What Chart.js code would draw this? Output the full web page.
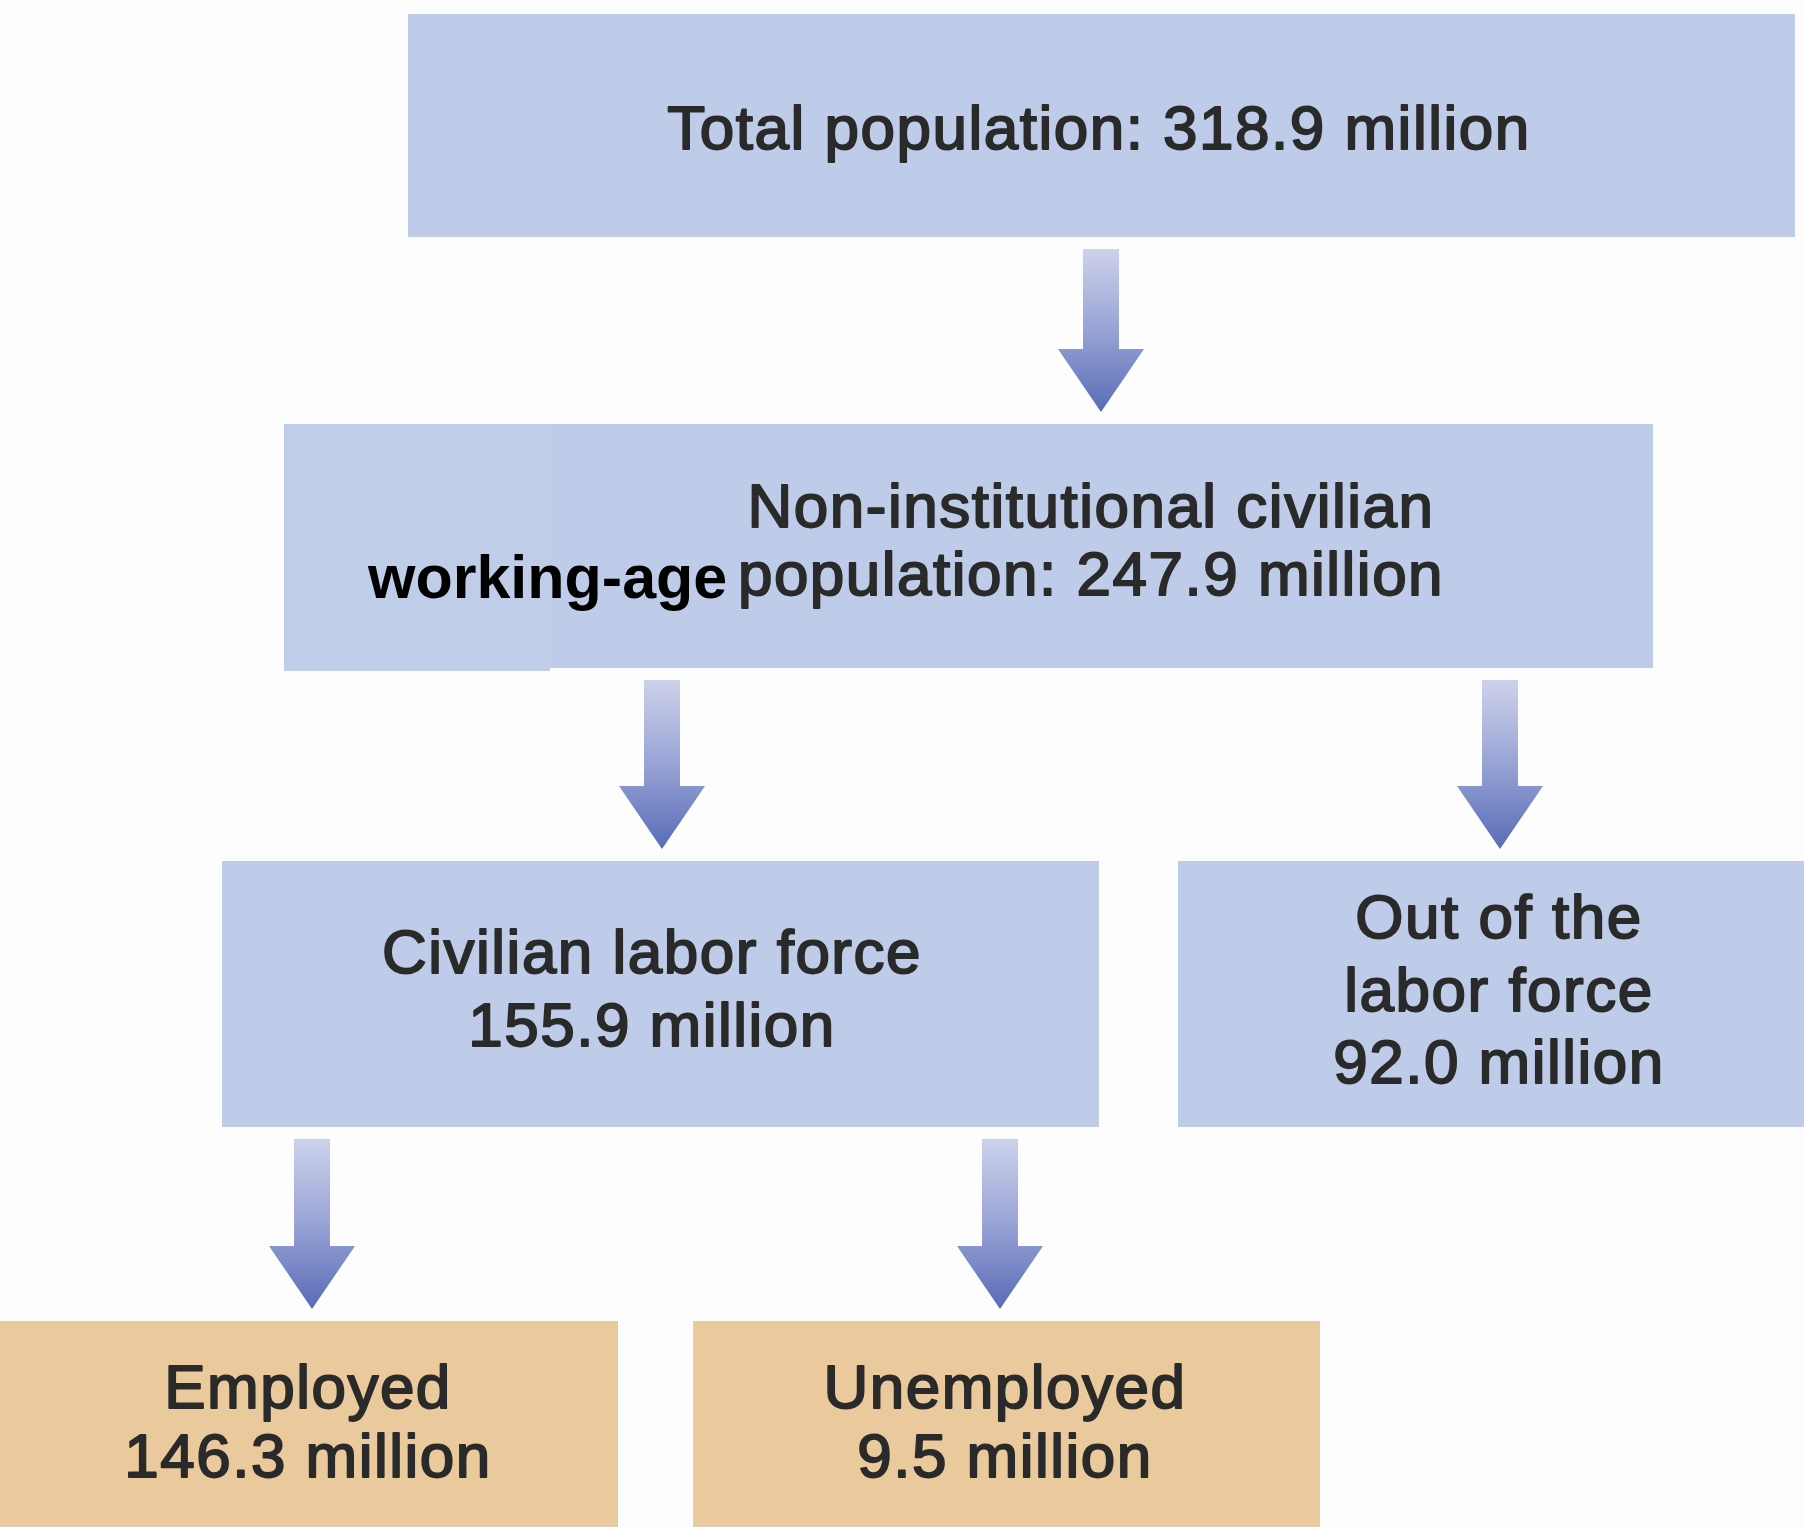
<!DOCTYPE html>
<html>
<head>
<meta charset="utf-8">
<script src="https://cdn.jsdelivr.net/npm/chart.js@4.4.1/dist/chart.umd.min.js"></script>
<style>
  html, body { margin: 0; padding: 0; background: #fdfdfd; }
  #wrap { width: 1804px; height: 1527px; }
</style>
</head>
<body>
<div id="wrap"><canvas id="flowChart" width="1804" height="1527"></canvas></div>
<script>
// ---------- Data (millions of people)

const categories = [
    "Total population",
    "Non-institutional civilian working-age population",
    "Civilian labor force",
    "Out of the labor force",
    "Employed",
    "Unemployed"
];

const populationMillions = [318.9, 247.9, 155.9, 92.0, 146.3, 9.5];

const captionLines = [
    ["Total population:"],
    ["Non-institutional civilian", "population:"],
    ["Civilian labor force"],
    ["Out of the", "labor force"],
    ["Employed"],
    ["Unemployed"]
];

const valueOnSameLine = [true, true, false, false, false, false];

const parentOf = [null, 0, 1, 1, 2, 2];

const overlayLabel = "working-age";


// ---------- Layout (diagram units = canvas pixels through the hidden scales)

const boxes = [
    [408, 14, 1795, 237],
    [284, 424, 1653, 668],
    [222, 861, 1099, 1127],
    [1178, 861, 1804, 1127],
    [0, 1321, 618, 1527],
    [693, 1321, 1320, 1527]
];

const boxColors = ["#bfcce9", "#bfcce9", "#bfcce9", "#bfcce9", "#eac99c", "#eac99c"];

// text centre x, first baseline y, line gap
const textAnchors = [
    [1099, 149, 0],
    [1091, 527, 68],
    [652, 973, 73],
    [1499, 938, 72.5],
    [308, 1408, 69],
    [1005, 1408, 69]
];

const arrowX = [null, 1101, 662, 1500, 312, 1000];


// ---------- Drawing plugin

const flowPlugin = {
    id: "flowPlugin",

    beforeDraw(chart) {
        const ctx = chart.ctx;
        ctx.save();
        ctx.fillStyle = "#fdfdfd";
        ctx.fillRect(0, 0, chart.width, chart.height);
        ctx.restore();
    },

    afterDatasetsDraw(chart) {
        const ctx = chart.ctx;
        const xs = chart.scales.x;
        const ys = chart.scales.y;
        const px = v => xs.getPixelForValue(v);
        const py = v => ys.getPixelForValue(v);

        ctx.save();

        // boxes
        boxes.forEach((b, i) => {
            ctx.fillStyle = boxColors[i];
            ctx.fillRect(px(b[0]), py(b[1]), px(b[2]) - px(b[0]), py(b[3]) - py(b[1]));
        });

        // arrows
        parentOf.forEach((p, i) => {
            if (p === null) return;
            const cx = px(arrowX[i]);
            const top = py(boxes[p][3] + 12);
            const tip = py(boxes[i][1] - 12);
            const headTop = tip - 63;
            const g = ctx.createLinearGradient(0, top, 0, tip);
            g.addColorStop(0, "#cdd2eb");
            g.addColorStop(0.5, "#98a3d5");
            g.addColorStop(1, "#586cb7");
            ctx.fillStyle = g;
            ctx.beginPath();
            ctx.moveTo(cx - 18, top);
            ctx.lineTo(cx + 18, top);
            ctx.lineTo(cx + 18, headTop);
            ctx.lineTo(cx + 43, headTop);
            ctx.lineTo(cx, tip);
            ctx.lineTo(cx - 43, headTop);
            ctx.lineTo(cx - 18, headTop);
            ctx.closePath();
            ctx.fill();
        });

        // labels
        ctx.font = "62px 'Liberation Sans', Arial, sans-serif";
        ctx.textAlign = "center";
        ctx.textBaseline = "alphabetic";
        ctx.fillStyle = "#2a2a2a";
        ctx.strokeStyle = "#2a2a2a";
        ctx.lineWidth = 1.9;
        ctx.lineJoin = "round";
        if ("letterSpacing" in ctx) ctx.letterSpacing = "1.5px";

        categories.forEach((c, i) => {
            const lines = captionLines[i].slice();
            const valueText = populationMillions[i].toFixed(1) + " million";
            if (valueOnSameLine[i]) {
                lines[lines.length - 1] += " " + valueText;
            } else {
                lines.push(valueText);
            }
            const a = textAnchors[i];
            lines.forEach((ln, k) => {
                const x = px(a[0]);
                const y = py(a[1] + k * a[2]);
                ctx.fillText(ln, x, y);
                ctx.strokeText(ln, x, y);
            });
        });

        // pasted "working-age" patch on the second box
        const b = boxes[1];
        ctx.fillStyle = "#c0cde9";
        ctx.fillRect(px(b[0]), py(b[1]), px(550) - px(b[0]), py(b[3] + 3) - py(b[1]));
        if ("letterSpacing" in ctx) ctx.letterSpacing = "0px";
        ctx.font = "bold 61px 'Liberation Sans', Arial, sans-serif";
        ctx.textAlign = "left";
        ctx.fillStyle = "#000000";
        ctx.fillText(overlayLabel, px(368), py(598));

        ctx.restore();
    }
};


// ---------- Chart

const flowChart = new Chart(document.getElementById("flowChart"), {

    type: "scatter",

    data: {
        datasets: [{
            label: "Population (millions)",
            data: [],
            pointRadius: 0
        }]
    },

    options: {
        responsive: false,
        animation: false,
        layout: { padding: 0 },
        plugins: {
            legend: { display: false },
            tooltip: { enabled: false }
        },
        scales: {
            x: { type: "linear", min: 0, max: 1804, display: false },
            y: { type: "linear", min: 0, max: 1527, reverse: true, display: false }
        }
    },

    plugins: [flowPlugin]
});
</script>
</body>
</html>
